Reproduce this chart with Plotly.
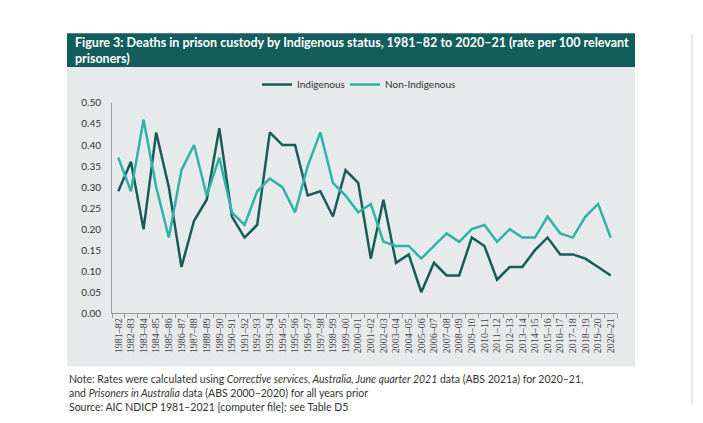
import plotly.graph_objects as go

years = ["1981–82","1982–83","1983–84","1984–85","1985–86","1986–87","1987–88","1988–89","1989–90","1990–91",
         "1991–92","1992–93","1993–94","1994–95","1995–96","1996–97","1997–98","1998–99","1999–00","2000–01",
         "2001–02","2002–03","2003–04","2004–05","2005–06","2006–07","2007–08","2008–09","2009–10","2010–11",
         "2011–12","2012–13","2013–14","2014–15","2015–16","2016–17","2017–18","2018–19","2019–20","2020–21"]
indigenous = [0.29,0.36,0.20,0.43,0.30,0.11,0.22,0.27,0.44,0.23,
              0.18,0.21,0.43,0.40,0.40,0.28,0.29,0.23,0.34,0.31,
              0.13,0.27,0.12,0.14,0.05,0.12,0.09,0.09,0.18,0.16,
              0.08,0.11,0.11,0.15,0.18,0.14,0.14,0.13,0.11,0.09]
non_indigenous = [0.37,0.29,0.46,0.30,0.18,0.34,0.40,0.28,0.37,0.24,
                  0.21,0.29,0.32,0.30,0.24,0.35,0.43,0.31,0.28,0.24,
                  0.26,0.17,0.16,0.16,0.13,0.16,0.19,0.17,0.20,0.21,
                  0.17,0.20,0.18,0.18,0.23,0.19,0.18,0.23,0.26,0.18]
y_ticks = [0.0,0.05,0.10,0.15,0.20,0.25,0.30,0.35,0.40,0.45,0.50]

W, H = 703, 423
def px(x): return x / W
def py(y): return 1 - y / H

legend_font = dict(family="Lato, sans-serif", size=10, color="#333333")

fig = go.Figure()
fig.add_trace(go.Scatter(x=years, y=indigenous, name="Indigenous", mode="lines",
                         line=dict(color="#175c58", width=2.5), legend="legend"))
fig.add_trace(go.Scatter(x=years, y=non_indigenous, name="Non-Indigenous", mode="lines",
                         line=dict(color="#2eb3a6", width=2.5), legend="legend2"))

fig.update_layout(
    width=W, height=H, margin=dict(l=0, r=0, t=0, b=0),
    paper_bgcolor="white", plot_bgcolor="rgba(0,0,0,0)",
    showlegend=True,
    legend=dict(orientation="h", x=px(257), y=py(80), xanchor="left", yanchor="middle",
                bgcolor="rgba(0,0,0,0)", font=legend_font, itemwidth=30),
    legend2=dict(orientation="h", x=px(345), y=py(80), xanchor="left", yanchor="middle",
                 bgcolor="rgba(0,0,0,0)", font=legend_font, itemwidth=30),
    xaxis=dict(domain=[px(112), px(617)], type="category", showgrid=False,
               showline=True, linecolor="#9a9a9a", linewidth=1,
               ticks="outside", tickson="boundaries", ticklen=4, tickcolor="#9a9a9a",
               tickangle=-90, tickfont=dict(family="Liberation Serif, serif", size=10, color="#444444"),
               range=[-0.5, len(years) - 0.5], fixedrange=True),
    yaxis=dict(domain=[py(316), py(99)], range=[0, 0.5], tickvals=y_ticks, tickformat=".2f",
               showgrid=False, zeroline=False, showline=True, linecolor="#9a9a9a", linewidth=1,
               ticks="", tickfont=dict(family="Lato, sans-serif", size=10, color="#333333"),
               ticklabelstandoff=8, fixedrange=True),
    shapes=[
        dict(type="rect", xref="paper", yref="paper", x0=px(67), x1=px(635), y0=py(371), y1=py(62),
             fillcolor="#e7eaeb", line=dict(width=0), layer="below"),
        dict(type="rect", xref="paper", yref="paper", x0=px(67), x1=px(635), y0=py(62), y1=py(27),
             fillcolor="#135e5c", line=dict(width=0), layer="below"),
        dict(type="line", xref="paper", yref="paper", x0=px(692), x1=px(692), y0=py(410), y1=py(28),
             line=dict(color="#d0d0d0", width=1)),
    ],
    annotations=[
        dict(xref="paper", yref="paper", x=px(73), y=py(45), xanchor="left", yanchor="middle",
             showarrow=False, align="left",
             text="<b>Figure 3: Deaths in prison custody by Indigenous status, 1981–82 to 2020–21 (rate per 100 relevant<br>prisoners)</b>",
             font=dict(family="Lato, sans-serif", size=12.5, color="white")),
        dict(xref="paper", yref="paper", x=px(67), y=py(391.5), xanchor="left", yanchor="middle",
             showarrow=False, align="left",
             text="Note: Rates were calculated using <i>Corrective services, Australia, June quarter 2021</i> data (ABS 2021a) for 2020–21,<br>and <i>Prisoners in Australia</i> data (ABS 2000–2020) for all years prior",
             font=dict(family="Lato, sans-serif", size=10.5, color="#333333")),
        dict(xref="paper", yref="paper", x=px(67), y=py(413), xanchor="left", yanchor="middle",
             showarrow=False, align="left",
             text="Source: AIC NDICP 1981–2021 [computer file]; see Table D5",
             font=dict(family="Lato, sans-serif", size=10.5, color="#333333")),
    ],
)

fig.write_html("out.html", config={"displayModeBar": False},
               post_script="document.body.style.margin='0';")
